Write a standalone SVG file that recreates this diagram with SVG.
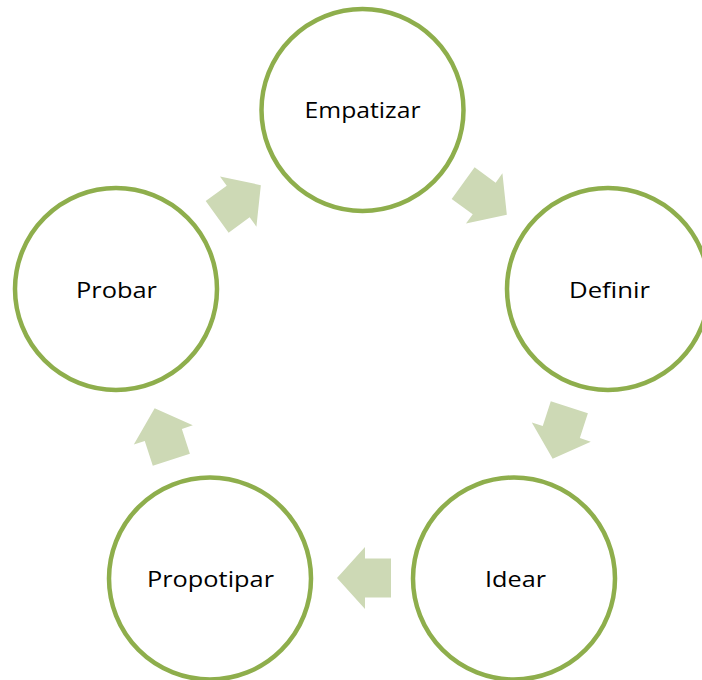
<svg xmlns="http://www.w3.org/2000/svg" width="702" height="680" viewBox="0 0 702 680">
<defs>
<style>
.node circle{fill:#ffffff;stroke:#8eae4c;stroke-width:4.5}
.node text{font-family:"Open Sans","Liberation Sans",sans-serif;font-size:21px;fill:#000000;text-anchor:middle}
.arrow{fill:#cdd9b5}
</style>
<polygon id="arr" class="arrow" points="-27,-19.5 -1,-19.5 -1,-31 27,0 -1,31 -1,19.5 -27,19.5"/>
</defs>
<rect width="702" height="680" fill="#ffffff"/>
<g id="connectors">
<use href="#arr" transform="translate(239,201) rotate(-36)"/>
<use href="#arr" transform="translate(485,199) rotate(36)"/>
<use href="#arr" transform="translate(561,433) rotate(108)"/>
<use href="#arr" transform="translate(364,578) rotate(180)"/>
<use href="#arr" transform="translate(163,434) rotate(-108)"/>
</g>
<g id="empatizar" class="node"><circle cx="362.5" cy="110" r="101"/><text x="362.5" y="117.5" textLength="116" lengthAdjust="spacingAndGlyphs">Empatizar</text></g>
<g id="definir" class="node"><circle cx="608" cy="289" r="101"/><text x="609.5" y="297.5" textLength="81" lengthAdjust="spacingAndGlyphs">Definir</text></g>
<g id="idear" class="node"><circle cx="514" cy="578.5" r="101"/><text x="515.5" y="586.5" textLength="61" lengthAdjust="spacingAndGlyphs">Idear</text></g>
<g id="propotipar" class="node"><circle cx="210" cy="578.5" r="101"/><text x="210.5" y="586.5" textLength="127" lengthAdjust="spacingAndGlyphs">Propotipar</text></g>
<g id="probar" class="node"><circle cx="116" cy="289" r="101"/><text x="116.5" y="297.5" textLength="81" lengthAdjust="spacingAndGlyphs">Probar</text></g>
</svg>
